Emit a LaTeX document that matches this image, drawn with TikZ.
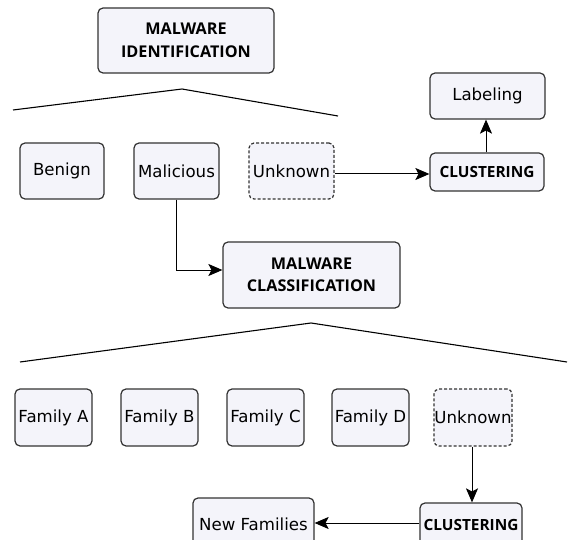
\documentclass[tikz,border=0pt]{standalone}
\usepackage{fontspec}
\setmainfont{DejaVu Sans}
\newfontfamily\boldfam{Open Sans}
\usetikzlibrary{arrows.meta}
\definecolor{boxfill}{RGB}{244,244,250}
\definecolor{boxline}{RGB}{51,51,51}
\tikzset{
  boxnode/.style={draw=boxline, line width=1.2pt, fill=boxfill, rounded corners=5pt,
    inner sep=0pt, align=center, font=\fontsize{16.6}{20}\selectfont},
  titlenode/.style={boxnode, font=\boldfam\bfseries\fontsize{16.2}{22.5}\selectfont},
  clunode/.style={boxnode, font=\boldfam\bfseries\fontsize{15.4}{18}\selectfont},
  dashbox/.style={boxnode, dash pattern=on 3pt off 2pt},
  arr/.style={draw=black, line width=1pt, -{Stealth[length=14pt,width=12pt,inset=3pt]}},
  treeline/.style={draw=black, line width=1.1pt}
}
\begin{document}
\begin{tikzpicture}[x=1pt,y=-1pt]
\useasboundingbox (0,0) rectangle (581,540);
\clip (0,0) rectangle (581,540);
\fill[white] (0,0) rectangle (581,540);
% top level
\node[titlenode, minimum width=176pt, minimum height=65pt] (mid) at (186,40.5) {MALWARE\\IDENTIFICATION};
\coordinate (t1l) at (13,110);
\coordinate (t1m) at (182,89);
\coordinate (t1r) at (338,116);
\draw[treeline] (t1l) -- (t1m) -- (t1r);
\node[boxnode, minimum width=84pt, minimum height=56pt] (benign) at (62,171) {Benign};
\node[boxnode, minimum width=85pt, minimum height=56pt] (mal) at (176.5,171) {Malicious};
\node[dashbox, minimum width=85pt, minimum height=56pt] (unk1) at (291.5,171) {Unknown};
\node[clunode, minimum width=114pt, minimum height=38pt] (clu1) at (487,172) {CLUSTERING};
\node[boxnode, minimum width=115pt, minimum height=46pt] (lab) at (487.5,96) {Labeling};
\draw[arr] (unk1.east |- 0,174) -- (clu1.west |- 0,174);
\draw[arr] (clu1.north -| 486,0) -- (lab.south -| 486,0);
% classification
\node[titlenode, minimum width=177pt, minimum height=66pt] (mcl) at (311.5,275) {MALWARE\\CLASSIFICATION};
\draw[arr] (mal.south) |- (mcl.west |- 0,270);
\coordinate (t2l) at (20,362);
\coordinate (t2m) at (311,323);
\coordinate (t2r) at (567,362);
\draw[treeline] (t2l) -- (t2m) -- (t2r);
\node[boxnode, minimum width=77pt, minimum height=57pt] (fa) at (53.5,417.5) {Family A};
\node[boxnode, minimum width=77pt, minimum height=57pt] (fb) at (159.5,417.5) {Family B};
\node[boxnode, minimum width=77pt, minimum height=57pt] (fc) at (265.5,417.5) {Family C};
\node[boxnode, minimum width=77pt, minimum height=57pt] (fd) at (370.5,417.5) {Family D};
\node[dashbox, minimum width=78pt, minimum height=57pt] (unk2) at (473,417.5) {Unknown};
% bottom clustering
\node[clunode, minimum width=102pt, minimum height=44pt] (clu2) at (471,525) {CLUSTERING};
\node[boxnode, minimum width=121pt, minimum height=52pt] (nf) at (253.5,524) {New Families};
\draw[arr] (unk2.south -| 472,0) -- (clu2.north -| 472,0);
\draw[arr] (clu2.west |- 0,523) -- (nf.east |- 0,523);
\end{tikzpicture}
\end{document}
